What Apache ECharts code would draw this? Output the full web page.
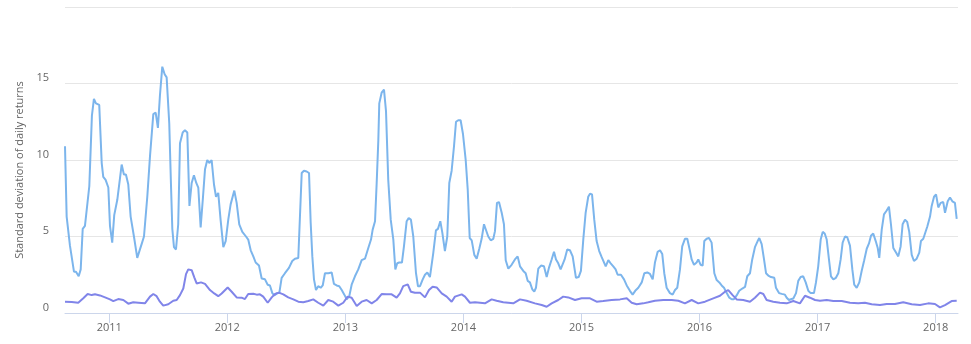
<!DOCTYPE html>
<html>
<head>
<meta charset="utf-8">
<script src="https://cdn.jsdelivr.net/npm/echarts@6/dist/echarts.min.js"></script>
<style>html,body{margin:0;padding:0;background:#fff}#c{width:971px;height:344px}</style>
</head>
<body>
<div id="c"></div>
<script>
// Dates as decimal years
const blueYears = [2010.625,2010.639,2010.667,2010.701,2010.718,2010.741,2010.758,2010.775,2010.794,2010.831,2010.853,2010.870,2010.887,2010.915,2010.936,2010.949,2010.969,2010.992,2011.006,2011.025,2011.042,2011.068,2011.105,2011.124,2011.141,2011.161,2011.181,2011.209,2011.237,2011.274,2011.294,2011.322,2011.345,2011.373,2011.393,2011.412,2011.429,2011.449,2011.469,2011.486,2011.508,2011.523,2011.534,2011.548,2011.565,2011.584,2011.599,2011.622,2011.641,2011.661,2011.679,2011.698,2011.717,2011.737,2011.754,2011.774,2011.794,2011.811,2011.830,2011.847,2011.867,2011.887,2011.904,2011.923,2011.944,2011.966,2011.986,2012.008,2012.028,2012.059,2012.079,2012.101,2012.127,2012.158,2012.177,2012.198,2012.220,2012.240,2012.268,2012.291,2012.319,2012.342,2012.361,2012.381,2012.398,2012.423,2012.440,2012.460,2012.488,2012.522,2012.550,2012.573,2012.601,2012.615,2012.630,2012.649,2012.672,2012.692,2012.706,2012.720,2012.734,2012.751,2012.770,2012.791,2012.808,2012.827,2012.855,2012.884,2012.903,2012.926,2012.948,2012.969,2012.991,2013.011,2013.033,2013.053,2013.081,2013.109,2013.138,2013.166,2013.194,2013.217,2013.231,2013.251,2013.265,2013.279,2013.287,2013.307,2013.327,2013.344,2013.363,2013.384,2013.406,2013.423,2013.439,2013.456,2013.479,2013.496,2013.519,2013.536,2013.555,2013.575,2013.598,2013.615,2013.632,2013.655,2013.674,2013.694,2013.716,2013.744,2013.767,2013.784,2013.804,2013.821,2013.843,2013.863,2013.880,2013.900,2013.920,2013.937,2013.956,2013.976,2013.996,2014.019,2014.036,2014.053,2014.070,2014.092,2014.112,2014.134,2014.154,2014.174,2014.188,2014.210,2014.231,2014.253,2014.267,2014.284,2014.301,2014.324,2014.343,2014.358,2014.380,2014.408,2014.436,2014.459,2014.479,2014.507,2014.527,2014.544,2014.563,2014.583,2014.600,2014.614,2014.634,2014.657,2014.682,2014.705,2014.724,2014.747,2014.767,2014.784,2014.803,2014.823,2014.857,2014.879,2014.902,2014.925,2014.953,2014.976,2014.995,2015.015,2015.035,2015.057,2015.072,2015.089,2015.108,2015.128,2015.150,2015.171,2015.184,2015.205,2015.227,2015.247,2015.269,2015.289,2015.306,2015.334,2015.360,2015.383,2015.410,2015.433,2015.455,2015.481,2015.510,2015.532,2015.557,2015.580,2015.603,2015.622,2015.645,2015.665,2015.684,2015.701,2015.721,2015.749,2015.772,2015.792,2015.811,2015.834,2015.853,2015.876,2015.896,2015.916,2015.933,2015.953,2015.975,2015.989,2016.009,2016.026,2016.040,2016.060,2016.080,2016.102,2016.125,2016.145,2016.167,2016.187,2016.207,2016.230,2016.252,2016.272,2016.291,2016.314,2016.336,2016.362,2016.385,2016.404,2016.427,2016.446,2016.469,2016.492,2016.506,2016.526,2016.546,2016.563,2016.582,2016.605,2016.633,2016.647,2016.673,2016.696,2016.723,2016.738,2016.757,2016.774,2016.794,2016.817,2016.836,2016.856,2016.878,2016.899,2016.921,2016.941,2016.969,2016.986,2017.005,2017.026,2017.043,2017.060,2017.077,2017.096,2017.113,2017.133,2017.155,2017.175,2017.195,2017.212,2017.232,2017.251,2017.274,2017.294,2017.310,2017.331,2017.353,2017.373,2017.393,2017.416,2017.435,2017.452,2017.471,2017.492,2017.509,2017.522,2017.543,2017.562,2017.585,2017.604,2017.621,2017.641,2017.664,2017.683,2017.703,2017.720,2017.740,2017.759,2017.776,2017.797,2017.816,2017.839,2017.861,2017.875,2017.895,2017.909,2017.929,2017.952,2017.966,2017.986,2018.003,2018.022,2018.042,2018.064,2018.079,2018.102,2018.121,2018.141,2018.163,2018.178];
const blueValues = [10.9,6.3,4.4,2.7,2.7,2.4,2.85,5.5,5.7,8.3,12.9,14.0,13.7,13.6,9.8,8.9,8.7,8.2,5.7,4.6,6.4,7.4,9.7,9.05,9.05,8.4,6.3,5.0,3.6,4.5,5.0,7.6,10.25,13.0,13.1,12.1,14.2,16.1,15.6,15.4,12.4,8.3,5.5,4.3,4.15,5.8,11.1,11.8,11.95,11.8,7.0,8.5,9.0,8.5,8.2,5.6,7.6,9.4,10.0,9.8,10.0,8.4,7.6,7.85,6.0,4.3,4.7,6.1,7.1,8.0,7.2,5.8,5.3,5.0,4.8,4.1,3.7,3.3,3.1,2.25,2.2,1.85,1.8,1.3,1.15,1.3,1.3,2.3,2.6,2.95,3.4,3.55,3.6,3.55,9.15,9.3,9.25,9.15,5.9,3.7,2.2,1.5,1.75,1.65,1.8,2.6,2.6,2.65,1.9,1.8,1.75,1.5,1.2,0.9,1.1,1.85,2.4,2.85,3.45,3.55,4.25,4.8,5.45,6.0,8.5,11.3,13.7,14.4,14.6,13.2,8.7,6.1,4.8,2.85,3.25,3.3,3.3,4.35,6.0,6.2,6.1,5.0,2.6,1.75,1.75,2.2,2.5,2.65,2.35,3.9,5.4,5.5,6.0,5.25,4.05,5.0,8.5,9.3,10.9,12.5,12.6,12.6,11.7,10.0,8.1,4.9,4.75,3.8,3.55,4.2,4.85,5.8,5.7,5.0,4.75,4.85,5.35,7.2,7.25,6.55,5.8,3.45,2.9,3.15,3.5,3.7,3.05,2.75,2.6,2.1,2.0,1.55,1.4,1.65,2.9,3.1,3.05,2.35,2.95,3.5,4.0,3.5,3.25,2.85,3.5,4.15,4.1,3.7,2.3,2.35,2.75,4.8,6.55,7.6,7.8,7.75,6.1,4.7,4.05,3.65,3.6,3.05,3.45,3.25,3.05,2.85,2.5,2.5,2.2,1.8,1.45,1.2,1.45,1.65,2.0,2.6,2.65,2.55,2.2,3.3,4.0,4.1,3.85,2.6,1.65,1.3,1.2,1.5,1.65,2.85,4.35,4.85,4.85,4.15,3.5,3.15,3.3,3.5,3.15,3.1,4.7,4.85,4.9,4.6,2.6,2.15,2.0,1.8,1.65,1.3,1.0,0.9,0.9,1.15,1.45,1.6,1.7,2.4,2.6,3.5,4.3,4.7,4.9,4.5,3.5,2.6,2.45,2.35,2.3,1.65,1.3,1.25,1.2,1.0,0.85,0.9,0.95,1.3,2.1,2.35,2.4,2.0,1.45,1.3,1.3,2.0,3.05,4.8,5.3,5.2,4.8,3.5,2.4,2.2,2.3,2.6,3.5,4.6,5.0,4.95,4.4,2.85,1.85,1.65,2.0,2.75,3.4,4.2,4.55,5.05,5.2,4.7,4.25,3.6,5.45,6.45,6.7,6.95,5.8,4.25,3.95,3.7,4.35,5.8,6.1,5.95,5.3,3.8,3.4,3.55,3.95,4.7,4.85,4.85,5.65,6.3,7.0,7.6,7.75,6.9,7.2,7.25,6.55,7.3,7.55,7.3,7.2,6.15];

const purpleYears = [2010.625,2010.682,2010.737,2010.780,2010.817,2010.851,2010.879,2010.921,2010.964,2011.006,2011.034,2011.076,2011.119,2011.161,2011.203,2011.246,2011.302,2011.345,2011.373,2011.401,2011.429,2011.457,2011.500,2011.542,2011.571,2011.599,2011.627,2011.650,2011.669,2011.698,2011.720,2011.740,2011.777,2011.811,2011.853,2011.889,2011.923,2011.952,2012.003,2012.037,2012.079,2012.121,2012.149,2012.177,2012.220,2012.249,2012.276,2012.304,2012.342,2012.376,2012.404,2012.437,2012.474,2012.516,2012.559,2012.601,2012.643,2012.686,2012.728,2012.770,2012.813,2012.855,2012.897,2012.940,2012.982,2013.019,2013.053,2013.096,2013.138,2013.180,2013.223,2013.265,2013.307,2013.350,2013.392,2013.434,2013.462,2013.490,2013.528,2013.555,2013.589,2013.632,2013.674,2013.708,2013.739,2013.773,2013.816,2013.858,2013.900,2013.928,2013.985,2014.013,2014.055,2014.098,2014.140,2014.182,2014.239,2014.281,2014.337,2014.422,2014.479,2014.535,2014.606,2014.663,2014.705,2014.747,2014.803,2014.845,2014.888,2014.945,2015.001,2015.072,2015.128,2015.184,2015.255,2015.326,2015.383,2015.425,2015.467,2015.523,2015.566,2015.622,2015.693,2015.764,2015.820,2015.876,2015.933,2015.989,2016.046,2016.116,2016.173,2016.215,2016.243,2016.280,2016.314,2016.370,2016.427,2016.469,2016.512,2016.540,2016.568,2016.624,2016.681,2016.738,2016.794,2016.850,2016.893,2016.935,2016.978,2017.020,2017.077,2017.133,2017.204,2017.274,2017.344,2017.401,2017.458,2017.528,2017.585,2017.655,2017.725,2017.797,2017.867,2017.937,2017.994,2018.036,2018.079,2018.135,2018.178];
const purpleValues = [0.74,0.72,0.67,0.96,1.24,1.17,1.22,1.15,1.02,0.89,0.78,0.91,0.85,0.61,0.7,0.67,0.63,1.07,1.24,1.1,0.74,0.48,0.57,0.8,0.85,1.17,1.6,2.54,2.85,2.8,2.33,1.93,2.0,1.9,1.5,1.28,1.1,1.28,1.67,1.39,1.02,1.0,0.91,1.24,1.26,1.2,1.22,1.07,0.67,1.02,1.24,1.33,1.22,1.02,0.89,0.74,0.7,0.78,0.89,0.67,0.48,0.85,0.74,0.48,0.67,1.07,1.0,0.46,0.74,0.85,0.63,0.85,1.24,1.22,1.22,1.0,1.28,1.76,1.87,1.39,1.33,1.33,1.02,1.5,1.72,1.67,1.28,1.07,0.74,1.07,1.22,1.07,0.67,0.7,0.67,0.63,0.89,0.8,0.7,0.63,0.89,0.8,0.63,0.52,0.41,0.63,0.85,1.07,1.02,0.85,0.96,0.96,0.74,0.78,0.85,0.89,0.96,0.67,0.57,0.63,0.7,0.8,0.85,0.85,0.8,0.63,0.85,0.63,0.74,0.96,1.13,1.39,1.5,1.17,0.89,0.85,0.74,1.0,1.33,1.24,0.85,0.74,0.67,0.63,0.78,0.63,1.13,1.0,0.85,0.8,0.85,0.78,0.78,0.67,0.63,0.67,0.57,0.52,0.59,0.59,0.7,0.57,0.52,0.63,0.59,0.37,0.52,0.78,0.8];

const tickYears = [2011,2012,2013,2014,2015,2016,2017,2018];
const axisStartYear = 2010.625;
const axisEndYear = 2018.189;
const yTitle = 'Standard deviation of daily returns';

function zip(xs, vs) { return xs.map((x, i) => [x, vs[i]]); }

const chart = echarts.init(document.getElementById('c'));
const font = '"Open Sans", "Liberation Sans", Arial, sans-serif';
chart.setOption({
  animation: false,
  textStyle: { fontFamily: font },
  grid: { left: 65, right: 13, top: 7, bottom: 31 },
  xAxis: {
    type: 'value',
    min: axisStartYear,
    max: axisEndYear,
    axisLine: { lineStyle: { color: '#ccd6eb', width: 1 } },
    axisTick: { length: 10, lineStyle: { color: '#ccd6eb' }, customValues: tickYears },
    axisLabel: {
      customValues: tickYears,
      color: '#666666', fontSize: 11, fontFamily: font, margin: 9,
      formatter: v => String(Math.round(v))
    },
    splitLine: { show: false }
  },
  yAxis: {
    type: 'value', min: 0, max: 20, interval: 5,
    name: yTitle, nameLocation: 'middle', nameGap: 30,
    nameTextStyle: { color: '#666666', fontSize: 11, fontFamily: font, padding: [0, 20, 0, 0] },
    axisLine: { show: false }, axisTick: { show: false },
    axisLabel: { color: '#666666', fontSize: 11, fontFamily: font, margin: 16, verticalAlign: 'bottom', showMaxLabel: false },
    splitLine: { lineStyle: { color: '#e6e6e6' } }
  },
  series: [
    { type: 'line', data: zip(blueYears, blueValues), showSymbol: false, lineStyle: { color: '#7cb5ec', width: 2 }, itemStyle: { color: '#7cb5ec' } },
    { type: 'line', data: zip(purpleYears, purpleValues), showSymbol: false, lineStyle: { color: '#8085e9', width: 2 }, itemStyle: { color: '#8085e9' } }
  ]
});
</script>
</body>
</html>
